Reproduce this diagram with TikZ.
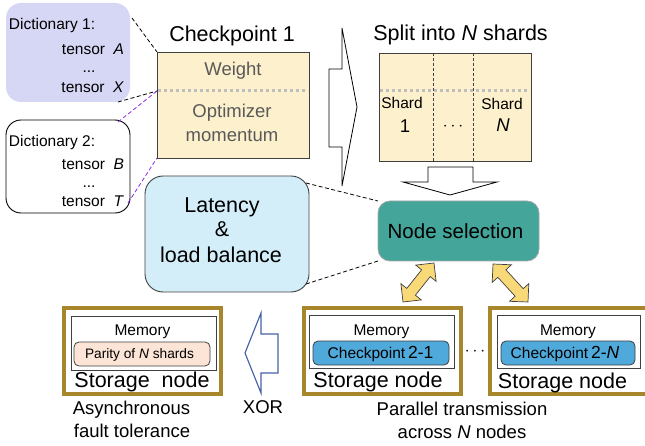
\documentclass[tikz,border=0pt]{standalone}
\usepackage{fontspec}
\setmainfont{Liberation Sans}
\usetikzlibrary{calc}

\definecolor{dictlav}{HTML}{D6D6F5}
\definecolor{ckfill}{HTML}{FDF0CD}
\definecolor{latfill}{HTML}{D3EEF9}
\definecolor{nsteal}{HTML}{44A59A}
\definecolor{arrowyel}{HTML}{F9D878}
\definecolor{storegold}{HTML}{A8872C}
\definecolor{ckblue}{HTML}{4FA9DA}
\definecolor{parityfill}{HTML}{FCE4D6}
\definecolor{xorblue}{HTML}{4461A8}
\definecolor{dimtext}{HTML}{595959}
\definecolor{dotgray}{HTML}{BFBFBF}
\definecolor{linkpurple}{HTML}{8A2BE2}
\definecolor{edgegray}{HTML}{404040}

\newcommand\fsBig{\fontsize{21.5}{26}\selectfont}
\newcommand\fsSel{\fontsize{20.5}{24}\selectfont}
\newcommand\fsMid{\fontsize{18.5}{23}\selectfont}
\newcommand\fsSmall{\fontsize{15.5}{19}\selectfont}
\newcommand\fsTiny{\fontsize{13.7}{16}\selectfont}

\begin{document}
\begin{tikzpicture}[x=1pt,y=-1pt,
  every node/.style={inner sep=0pt,outer sep=0pt},
  lbl/.style={anchor=base},
  dictone/.style={fill=dictlav,rounded corners=15pt},
  dicttwo/.style={draw=black,line width=0.9pt,fill=white,rounded corners=15pt},
  ckbox/.style={draw=edgegray,line width=0.9pt,fill=ckfill},
  latbox/.style={draw=edgegray,line width=0.9pt,fill=latfill,rounded corners=18pt},
  selbox/.style={draw=gray!70,line width=0.8pt,fill=nsteal,rounded corners=12pt},
  storebox/.style={draw=storegold,line width=4pt,fill=white},
  membox/.style={draw=edgegray,line width=0.9pt,fill=white},
  pill/.style={draw=edgegray,line width=0.8pt,rounded corners=5pt},
  link/.style={dashed,dash pattern=on 4pt off 2.5pt,line width=0.8pt},
  divider/.style={dotgray,line width=3pt,dash pattern=on 3pt off 3pt},
  sharddash/.style={edgegray,line width=0.8pt,dash pattern=on 3pt off 2pt},
  blockarrow/.style={draw=black,line width=0.8pt,fill=white},
  yarrow/.style={draw=edgegray,line width=0.7pt,fill=arrowyel,line join=miter},
]
\clip (0,0) rectangle (645,446);

% ---------- dictionaries ----------
\node[dictone,minimum width=124pt,minimum height=99pt] (d1) at (68,52.5) {};
\node[lbl,anchor=base west,font=\fsSmall] (d1t) at (9,30) {Dictionary 1:};
\node[lbl,anchor=base east,font=\fsSmall] (d1a) at (124,55) {tensor\ \ \textit{A}};
\node[lbl,font=\fsSmall] (d1d) at (89,73) {...};
\node[lbl,anchor=base east,font=\fsSmall] (d1x) at (124,93) {tensor\ \ \textit{X}};

\node[dicttwo,minimum width=124pt,minimum height=93pt] (d2) at (68,166.5) {};
\node[lbl,anchor=base west,font=\fsSmall] (d2t) at (9,147) {Dictionary 2:};
\node[lbl,anchor=base east,font=\fsSmall] (d2b) at (124,170) {tensor\ \ \textit{B}};
\node[lbl,font=\fsSmall] (d2d) at (89,188) {...};
\node[lbl,anchor=base east,font=\fsSmall] (d2x) at (124,207) {tensor\ \ \textit{T}};

% ---------- checkpoint 1 ----------
\node[lbl,font=\fsBig] (cktitle) at (232,42) {Checkpoint 1};
\node[ckbox,minimum width=152pt,minimum height=106pt] (ck) at (233,105) {};
\coordinate (ckdiv) at ($(ck.north west)+(0,39)$);
\draw[divider] ($(ckdiv)+(1,0)$) -- ($(ck.north east)+(-1,39)$);
\node[lbl,font=\fsMid,text=dimtext] (ckw) at (233,76) {Weight};
\node[lbl,font=\fsMid,text=dimtext] (cko1) at (232,118) {Optimizer};
\node[lbl,font=\fsMid,text=dimtext] (cko2) at (232,142) {momentum};

% links from the dictionaries
\draw[link,black] ($(d1.north east)+(2,15)$) -- (ck.north west);
\draw[link,black] ($(d1.south east)+(-12,0)$) -- (ckdiv);
\draw[link,linkpurple] ($(d2.north east)+(-12,2)$) -- (ckdiv);
\draw[link,linkpurple] ($(d2.south east)+(-2,-10)$) -- (ck.south west);

% ---------- split arrow ----------
\draw[blockarrow] (329,69) -- (342,69) -- (342,28) -- (357,107) -- (342,186)
  -- (342,147) -- (329,147) -- cycle;

% ---------- shards ----------
\node[lbl,font=\fsBig] (shtitle) at (460.5,41) {Split into \textit{N} shards};
\node[ckbox,minimum width=152pt,minimum height=108pt] (sh) at (455,107) {};
\draw[divider] ($(sh.north west)+(1,38)$) -- ($(sh.north east)+(-1,38)$);
\draw[sharddash] ($(sh.north west)+(54,0)$) -- ($(sh.south west)+(54,0)$);
\draw[sharddash] ($(sh.north west)+(94,0)$) -- ($(sh.south west)+(94,0)$);
\node[lbl,font=\fsSmall] (sh1a) at (402,109) {Shard};
\node[lbl,font=\fsMid] (sh1b) at (405,133) {1};
\node[font=\fsMid] (shdots) at (453,127) {$\cdots$};
\node[lbl,font=\fsSmall] (shna) at (502,110) {Shard};
\node[lbl,font=\fsMid] (shnb) at (503,132) {\textit{N}};

\draw[blockarrow] (428,167) -- (473,167) -- (473,182) -- (497,182) -- (450,195)
  -- (403,182) -- (428,182) -- cycle;

% ---------- latency and node selection ----------
\node[latbox,minimum width=164pt,minimum height=116pt] (lat) at (227,234) {};
\node[lbl,font=\fsBig] (lat1) at (222,213) {Latency};
\node[lbl,font=\fsBig] (lat2) at (222,237) {\&};
\node[lbl,font=\fsBig] (lat3) at (221,263) {load balance};

\node[selbox,minimum width=161pt,minimum height=60pt] (ns) at (458.5,231) {};
\node[lbl,font=\fsSel] (nst) at (455.5,239) {Node selection};

\draw[link,black] ($(lat.north east)+(-3,7)$) -- (ns.north west);
\draw[link,black] ($(lat.south east)+(-3,-8)$) -- (ns.south west);

% double-headed transfer arrows between node selection and storage
\draw[yarrow] (403,302) -- (421.3,299.9) -- (415.4,295.2) -- (430.2,276.6)
  -- (436.1,281.3) -- (434,263) -- (415.7,265.1) -- (421.6,269.8)
  -- (406.8,288.4) -- (400.9,283.7) -- cycle;
\draw[yarrow] (493,264) -- (492.2,282.4) -- (497.8,277.3) -- (515.1,296.2)
  -- (509.6,301.3) -- (528,302) -- (528.8,283.6) -- (523.2,288.7)
  -- (505.9,269.8) -- (511.4,264.8) -- cycle;

% ---------- storage nodes ----------
\node[storebox,minimum width=157pt,minimum height=86pt] (s0) at (142.5,351) {};
\node[membox,minimum width=145pt,minimum height=54pt] (m0) at (143.5,343) {};
\node[lbl,font=\fsSmall] (m0t) at (142.5,335) {Memory};
\node[pill,fill=parityfill,minimum width=136pt,minimum height=24pt] (p0) at (142,354) {};
\node[lbl,font=\fsTiny] (p0t) at (139.5,358) {Parity of \textit{N} shards};
\node[lbl,font=\fsBig] (s0t) at (142,387) {Storage\ \ node};

\node[storebox,minimum width=157pt,minimum height=86pt] (s1) at (382.5,351) {};
\node[membox,minimum width=145pt,minimum height=53pt] (m1) at (381.5,341.5) {};
\node[lbl,font=\fsSmall] (m1t) at (381.5,335) {Memory};
\node[pill,fill=ckblue,minimum width=136pt,minimum height=24pt] (p1) at (381,353) {};
\node[lbl] (p1t) at (380.5,358) {{\fsSmall Checkpoint}\ {\fontsize{17.5}{20}\selectfont 2-1}};
\node[lbl,font=\fsBig] (s1t) at (378,387) {Storage node};

\node[font=\fsMid] (sdots) at (475,352) {$\cdots$};

\node[storebox,minimum width=157pt,minimum height=86pt] (s2) at (568.5,351) {};
\node[membox,minimum width=143pt,minimum height=53pt] (m2) at (568.5,341.5) {};
\node[lbl,font=\fsSmall] (m2t) at (568,335) {Memory};
\node[pill,fill=ckblue,minimum width=134pt,minimum height=24pt] (p2) at (568,353) {};
\node[lbl] (p2t) at (565,358) {{\fsSmall Checkpoint}\ {\fontsize{17.5}{20}\selectfont 2-\textit{N}}};
\node[lbl,font=\fsBig] (s2t) at (562.5,388) {Storage node};

% ---------- XOR arrow and captions ----------
\draw[xorblue,line width=1.2pt,line join=miter] (245,353) -- (261,313) -- (261,334)
  -- (278,334) -- (278,373) -- (261,373) -- (261,393) -- cycle;
\node[lbl,font=\fsMid] (xor) at (263,413) {XOR};

\node[lbl,font=\fsMid] (as1) at (131.5,414) {Asynchronous};
\node[lbl,font=\fsMid] (as2) at (132,437) {fault tolerance};

\node[lbl,font=\fsMid] (pt1) at (462,415) {Parallel transmission};
\node[lbl,font=\fsMid] (pt2) at (462,438) {across \textit{N} nodes};
\end{tikzpicture}
\end{document}
